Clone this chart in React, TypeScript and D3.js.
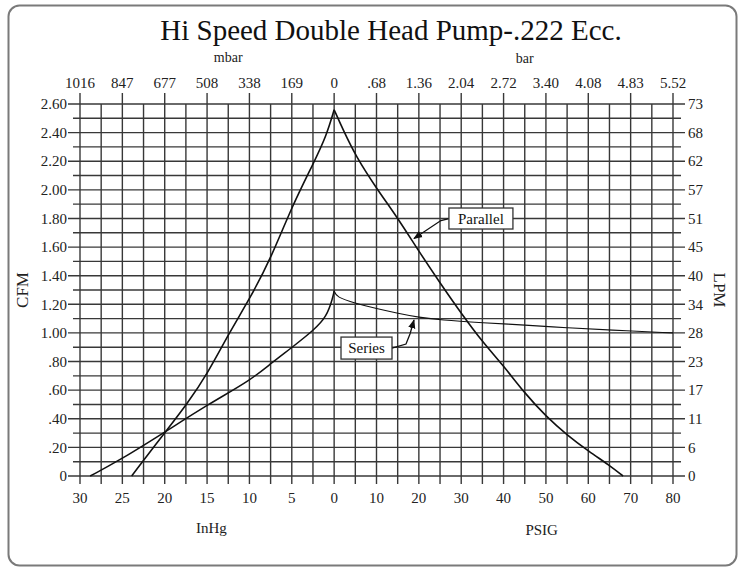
import * as d3 from "d3";

const W = 739;
const H = 573;

// left axis (CFM) and right axis (LPM)
const cfmTicks = [0, 0.2, 0.4, 0.6, 0.8, 1.0, 1.2, 1.4, 1.6, 1.8, 2.0, 2.2, 2.4, 2.6];
const cfmLabels = ["0", ".20", ".40", ".60", ".80", "1.00", "1.20", "1.40", "1.60", "1.80", "2.00", "2.20", "2.40", "2.60"];
const lpmLabels = ["0", "6", "11", "17", "23", "28", "34", "40", "45", "51", "57", "62", "68", "73"];

// bottom axis: vacuum (InHg) on the left half, pressure (PSIG) on the right
const inHgTicks = [30, 25, 20, 15, 10, 5, 0];
const psiTicks = [10, 20, 30, 40, 50, 60, 70, 80];
// top axis
const mbarLabels = ["1016", "847", "677", "508", "338", "169", "0"];
const barLabels = [".68", "1.36", "2.04", "2.72", "3.40", "4.08", "4.83", "5.52"];

// curves, [InHg or PSIG, CFM]
const parallelVac: [number, number][] = [
  [23.9, 0], [19.9, 0.31], [17.4, 0.5], [14.9, 0.72], [12.4, 1.0], [9.85, 1.25],
  [7.4, 1.53], [4.94, 1.89], [2.4, 2.19], [0.9, 2.38], [0, 2.56],
];
const parallelPsi: [number, number][] = [
  [0, 2.56], [2.1, 2.42], [5.2, 2.23], [10, 2.01], [15.1, 1.8], [20, 1.57], [25, 1.35],
  [30, 1.137], [35.2, 0.93], [40, 0.77], [45, 0.578], [50.1, 0.414], [55, 0.286],
  [60.2, 0.17], [64.9, 0.077], [68.2, 0],
];
const seriesVac: [number, number][] = [
  [28.8, 0], [25.25, 0.112], [19.9, 0.31], [14.9, 0.5], [9.85, 0.67], [7.4, 0.79],
  [4.94, 0.9], [2.4, 1.02], [0.9, 1.11], [0.14, 1.25], [0, 1.295],
];
const seriesPsi: [number, number][] = [
  [0, 1.295], [0.5, 1.25], [5.1, 1.207], [10, 1.17], [15.1, 1.137], [20, 1.109], [25.1, 1.09],
  [35.2, 1.071], [45, 1.055], [55, 1.036], [64.9, 1.02], [80, 1.0],
];

const FONT = "Liberation Serif, DejaVu Serif, serif";
const GRID = "#383838";

export default function App() {
  const left = 80;
  const right = 673;
  const top = 104;
  const bottom = 476;
  const step = (right - left) / 14;
  const mid = left + step * 6;

  const xVac = d3.scaleLinear().domain([30, 0]).range([left, mid]);
  const xPsi = d3.scaleLinear().domain([0, 80]).range([mid, right]);
  const y = d3.scaleLinear().domain([0, 2.6]).range([bottom, top]);

  // smooth hand-drawn look
  const vacLine = d3
    .line<[number, number]>()
    .x((d) => xVac(d[0]))
    .y((d) => y(d[1]))
    .curve(d3.curveBasis);
  const psiLine = d3
    .line<[number, number]>()
    .x((d) => xPsi(d[0]))
    .y((d) => y(d[1]))
    .curve(d3.curveBasis);

  const hLines = d3.range(0, 27).map((i) => ({ v: i / 10, major: i % 2 === 0 }));
  const vPos = [
    ...d3.range(30, -0.1, -2.5).map((v) => ({ x: xVac(v), major: v % 5 === 0 })),
    ...d3.range(5, 80.1, 5).map((v) => ({ x: xPsi(v), major: v % 10 === 0 })),
  ];

  // annotation anchors (data coords)
  const parTip = [xPsi(18.85), y(1.66)];
  const parBox = { x: xPsi(27.1), y: y(1.873), w: 64, h: 21 };
  const serTip = [xPsi(18.85), y(1.09)];
  const serBox = { x: xPsi(1.62), y: y(0.971), w: 51, h: 22 };

  return (
    <svg
      width={W}
      height={H}
      style={{ position: "absolute", left: 0, top: 0, background: "#fff", fontFamily: FONT }}
    >
      <defs>
        <marker id="ah" viewBox="0 0 10 10" refX="9" refY="5" markerWidth="7" markerHeight="7" orient="auto">
          <path d="M0,1 L10,5 L0,9 Z" fill="#111" />
        </marker>
      </defs>
      <rect x={8.5} y={5.5} width={728} height={560} rx={11} fill="#fff" stroke="#7a7a7a" strokeWidth={2} />

      <text x={391} y={40} textAnchor="middle" fontSize={29} fill="#111">
        Hi Speed Double Head Pump-.222 Ecc.
      </text>
      <text x={xVac(12.5)} y={62} textAnchor="middle" fontSize={14} fill="#222">mbar</text>
      <text x={xPsi(45)} y={63} textAnchor="middle" fontSize={14} fill="#222">bar</text>

      {/* grid */}
      <g stroke={GRID} strokeWidth={1.4}>
        {hLines.map((h, i) => (
          <line key={"h" + i} x1={h.major ? left - 12 : left - 7} x2={h.major ? right + 12 : right + 8} y1={y(h.v)} y2={y(h.v)} />
        ))}
        {vPos.map((p, i) => (
          <line key={"v" + i} x1={p.x} x2={p.x} y1={p.major ? top - 11 : top} y2={bottom + 8} />
        ))}
      </g>

      {/* axis labels */}
      <g fontSize={15} fill="#222">
        {cfmTicks.map((v, i) => (
          <text key={"l" + i} x={left - 13} y={y(v)} dy="0.35em" textAnchor="end">{cfmLabels[i]}</text>
        ))}
        {cfmTicks.map((v, i) => (
          <text key={"r" + i} x={right + 15} y={y(v)} dy="0.35em" textAnchor="start">{lpmLabels[i]}</text>
        ))}
        {inHgTicks.map((v, i) => (
          <text key={"b" + i} x={xVac(v)} y={503} textAnchor="middle">{v}</text>
        ))}
        {psiTicks.map((v, i) => (
          <text key={"p" + i} x={xPsi(v)} y={503} textAnchor="middle">{v}</text>
        ))}
        {inHgTicks.map((v, i) => (
          <text key={"m" + i} x={xVac(v)} y={88} textAnchor="middle">{mbarLabels[i]}</text>
        ))}
        {psiTicks.map((v, i) => (
          <text key={"t" + i} x={xPsi(v)} y={88} textAnchor="middle">{barLabels[i]}</text>
        ))}
      </g>

      <text x={xVac(14.5)} y={533} textAnchor="middle" fontSize={15} fill="#222">InHg</text>
      <text x={xPsi(49)} y={535} textAnchor="middle" fontSize={15} fill="#222">PSIG</text>
      <text transform={`translate(28,${y(1.3)}) rotate(-90)`} textAnchor="middle" fontSize={17} fill="#222">CFM</text>
      <text transform={`translate(714,${y(1.3)}) rotate(90)`} textAnchor="middle" fontSize={17} fill="#222">LPM</text>

      {/* curves */}
      <g fill="none" stroke="#111" strokeLinejoin="round">
        <path d={vacLine(parallelVac) ?? ""} strokeWidth={1.6} />
        <path d={psiLine(parallelPsi) ?? ""} strokeWidth={1.6} />
        <path d={vacLine(seriesVac) ?? ""} strokeWidth={1.5} />
        <path d={psiLine(seriesPsi) ?? ""} strokeWidth={1.1} />
      </g>

      {/* annotations */}
      <g>
        <path
          d={`M${parBox.x},${parBox.y + parBox.h / 2} L${parBox.x - 8},${parBox.y + parBox.h / 2 + 2} L${parTip[0]},${parTip[1]}`}
          fill="none" stroke="#111" strokeWidth={1.3} markerEnd="url(#ah)"
        />
        <rect x={parBox.x} y={parBox.y} width={parBox.w} height={parBox.h} fill="#fff" stroke="#333" strokeWidth={1.3} />
        <text x={parBox.x + parBox.w / 2} y={parBox.y + parBox.h / 2} dy="0.35em" textAnchor="middle" fontSize={15} fill="#111">Parallel</text>

        <path
          d={`M${serBox.x + serBox.w},${serBox.y + serBox.h / 2} L${serBox.x + serBox.w + 14},${serBox.y + serBox.h / 2 - 4} L${serTip[0] - 4},${serTip[1] + 14} L${serTip[0]},${serTip[1]}`}
          fill="none" stroke="#111" strokeWidth={1.3} markerEnd="url(#ah)"
        />
        <rect x={serBox.x} y={serBox.y} width={serBox.w} height={serBox.h} fill="#fff" stroke="#333" strokeWidth={1.3} />
        <text x={serBox.x + serBox.w / 2} y={serBox.y + serBox.h / 2} dy="0.35em" textAnchor="middle" fontSize={15} fill="#111">Series</text>
      </g>
    </svg>
  );
}
